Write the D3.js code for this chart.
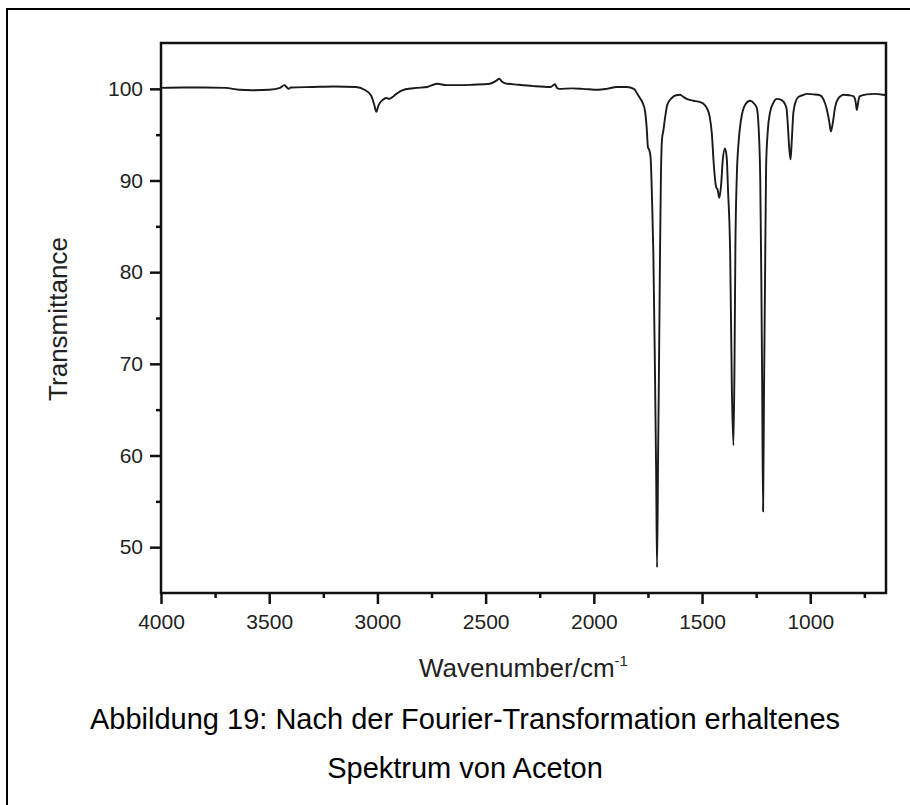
<!DOCTYPE html>
<html lang="de">
<head>
  <meta charset="UTF-8" />
  <title>FT-IR Spektrum von Aceton</title>
  <script src="https://d3js.org/d3.v7.min.js"></script>
  <style>
    body {
      margin: 0;
      background: #fff;
    }
    svg {
      display: block;
      font-family: 'Liberation Sans', Arial, sans-serif;
    }
    .tick text {
      font-size: 21px;
      fill: #222;
    }
    .tick line {
      stroke: #111;
      stroke-width: 2.5px;
    }
  </style>
</head>
<body>
  <svg width="910" height="805"></svg>

  <script>
    // spectrum (wavenumber in cm^-1, transmittance)
    const wavenumber = [
      4000, 3900, 3800, 3700, 3640, 3580, 3500, 3450, 3430, 3420, 3410, 3400,
      3300, 3200, 3100, 3060, 3030, 3015, 3005, 2995, 2975, 2960, 2945, 2925,
      2910, 2870, 2820, 2770, 2725, 2680, 2620, 2560, 2480, 2450, 2437, 2425,
      2410, 2350, 2280, 2200, 2180, 2170, 2160, 2100, 2050, 1980, 1940, 1894,
      1848, 1815, 1800, 1787, 1775, 1763, 1755, 1750, 1745, 1738, 1730, 1725,
      1718, 1712, 1708, 1703, 1698, 1694, 1690, 1685, 1679, 1670, 1660, 1640,
      1620, 1602, 1585, 1571, 1540, 1517, 1495, 1478, 1465, 1455, 1445, 1435,
      1428, 1420, 1412, 1404, 1394, 1386, 1380, 1370, 1362, 1355, 1350, 1346,
      1340, 1330, 1320, 1300, 1278, 1260, 1247, 1238, 1231, 1226, 1222, 1218,
      1214, 1209, 1204, 1196, 1186, 1170, 1155, 1140, 1124, 1110, 1104, 1097,
      1091, 1085, 1078, 1066, 1055, 1030, 1016, 985, 955, 940, 924, 912,
      905, 895, 886, 878, 860, 847, 820, 801, 793, 788, 785, 780,
      775, 770, 739, 700, 662, 650
    ];
    const transmittance = [
      100.1, 100.15, 100.15, 100.1, 99.9, 99.85, 99.9, 100.1, 100.4, 100.2, 100.0, 100.15,
      100.2, 100.25, 100.2, 99.9, 99.3, 98.3, 97.5, 98.2, 98.8, 99.0, 98.9, 99.2,
      99.5, 99.95, 100.1, 100.2, 100.55, 100.4, 100.4, 100.45, 100.55, 100.9, 101.1, 100.8,
      100.6, 100.45, 100.3, 100.2, 100.5, 100.1, 100.0, 100.05, 100.0, 99.9, 100.0, 100.2,
      100.2, 100.0, 99.5, 99.0, 98.5, 97.5, 95.5, 93.6, 93.4, 92.6, 87, 82,
      70, 58, 47.8, 60, 72, 82.5, 90.5, 94.5, 95.4, 97, 98.3, 99.0,
      99.3, 99.35, 99.1, 98.9, 98.7, 98.6, 98.4, 97.9, 97, 95.2, 91.5, 89.3,
      89.0, 88.1, 89.5, 92.3, 93.5, 92.5, 89, 82, 67, 61.1, 70, 82.5,
      90, 94.5, 96.6, 98.3, 98.7, 98.4, 97.9, 95.5, 90, 79, 67, 53.9,
      66, 79, 91.5, 95.5, 97.4, 98.5, 98.9, 98.85, 98.6, 97.9, 96.2, 93.5,
      92.3, 94.5, 97.4, 98.7, 99.1, 99.35, 99.45, 99.4, 99.3, 98.9, 97.8, 96.4,
      95.35, 96.4, 97.9, 98.6, 99.2, 99.35, 99.3, 99.2, 98.9, 98.2, 97.7, 98.3,
      99.0, 99.2, 99.4, 99.45, 99.35, 99.3
    ];

    const xMajor = [4000, 3500, 3000, 2500, 2000, 1500, 1000];
    const xMinor = [3750, 3250, 2750, 2250, 1750, 1250, 750];
    const yMajor = [50, 60, 70, 80, 90, 100];
    const yMinor = [55, 65, 75, 85, 95];
    const caption = [
      "Abbildung 19: Nach der Fourier-Transformation erhaltenes",
      "Spektrum von Aceton"
    ];

    const plotLeft = 161, plotRight = 886, plotTop = 43, plotBottom = 593;
    const svg = d3.select("svg");

    const x = d3.scaleLinear().domain([4000, 650]).range([plotLeft, plotRight]);
    const y = d3.scaleLinear().domain([45, 105]).range([plotBottom, plotTop]);
    const fmt = d3.format("d");

    // outer figure border (left and top edges only)
    svg.append("path")
      .attr("d", "M7,805 V9 H910")
      .attr("fill", "none")
      .attr("stroke", "#000")
      .attr("stroke-width", 2);

    svg.append("g")
      .attr("transform", `translate(0,${plotBottom})`)
      .call(d3.axisBottom(x).tickValues(xMajor).tickFormat(fmt)
        .tickSize(11).tickPadding(10).tickSizeOuter(0))
      .call(g => g.select(".domain").remove());

    svg.append("g")
      .attr("transform", `translate(0,${plotBottom})`)
      .call(d3.axisBottom(x).tickValues(xMinor).tickSize(5).tickFormat(""))
      .call(g => g.select(".domain").remove());

    svg.append("g")
      .attr("transform", `translate(${plotLeft},0)`)
      .call(d3.axisLeft(y).tickValues(yMajor).tickFormat(fmt)
        .tickSize(11).tickPadding(7).tickSizeOuter(0))
      .call(g => g.select(".domain").remove());

    svg.append("g")
      .attr("transform", `translate(${plotLeft},0)`)
      .call(d3.axisLeft(y).tickValues(yMinor).tickSize(5).tickFormat(""))
      .call(g => g.select(".domain").remove());

    svg.append("clipPath").attr("id", "plotclip")
      .append("rect")
      .attr("x", plotLeft).attr("y", plotTop)
      .attr("width", plotRight - plotLeft).attr("height", plotBottom - plotTop);

    const points = wavenumber.map((w, i) => [w, transmittance[i]]);

    svg.append("path")
      .datum(points)
      .attr("clip-path", "url(#plotclip)")
      .attr("fill", "none")
      .attr("stroke", "#1a1a1a")
      .attr("stroke-width", 1.9)
      .attr("stroke-linejoin", "round")
      .attr("d", d3.line()
        .x(d => x(d[0]))
        .y(d => y(d[1]))
        .curve(d3.curveMonotoneX));

    // plot frame
    svg.append("rect")
      .attr("x", plotLeft).attr("y", plotTop)
      .attr("width", plotRight - plotLeft).attr("height", plotBottom - plotTop)
      .attr("fill", "none")
      .attr("stroke", "#111")
      .attr("stroke-width", 2.5);

    svg.append("text")
      .attr("transform", "translate(67,319) rotate(-90)")
      .attr("text-anchor", "middle")
      .attr("font-size", 26)
      .attr("fill", "#222")
      .text("Transmittance");

    const xTitle = svg.append("text")
      .attr("x", (plotLeft + plotRight) / 2)
      .attr("y", 677)
      .attr("text-anchor", "middle")
      .attr("font-size", 26)
      .attr("fill", "#222");
    xTitle.append("tspan").text("Wavenumber/cm");
    xTitle.append("tspan")
      .attr("dy", -11)
      .attr("font-size", 15)
      .text("-1");

    svg.append("g")
      .selectAll("text")
      .data(caption)
      .join("text")
      .attr("x", 465)
      .attr("y", (d, i) => 729 + i * 49)
      .attr("text-anchor", "middle")
      .attr("font-size", 29)
      .attr("fill", "#000")
      .text(d => d);
  </script>
</body>
</html>
